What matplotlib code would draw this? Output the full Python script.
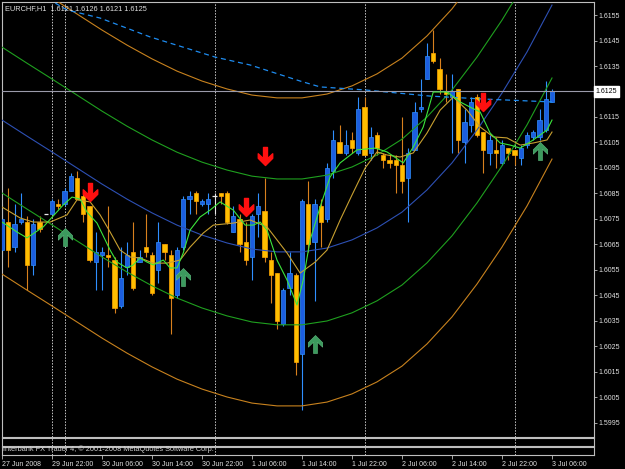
import numpy as np
import matplotlib.pyplot as plt
from matplotlib.path import Path
from matplotlib.transforms import blended_transform_factory

plt.rcParams['font.family'] = ['Liberation Sans', 'DejaVu Sans']

# EURCHF H1 candles, bar 0 = 27 Jun 2008 14:00
opens = [1.6063, 1.6074, 1.6064, 1.6074, 1.6074, 1.6057, 1.6074, 1.6077, 1.6077, 1.6081,
         1.6081, 1.6086, 1.6091, 1.6084, 1.6080, 1.6058, 1.6061, 1.6061, 1.6059, 1.6041,
         1.6056, 1.6062, 1.6058, 1.6064, 1.6061, 1.6055, 1.6065, 1.6061, 1.6045, 1.6064,
         1.6083, 1.6085, 1.6081, 1.6081, 1.6084, 1.6085, 1.6085, 1.6070, 1.6075, 1.6066,
         1.6060, 1.6077, 1.6078, 1.6059, 1.6054, 1.6034, 1.6048, 1.6053, 1.6022, 1.6081,
         1.6066, 1.6080, 1.6075, 1.6094, 1.6105, 1.6101, 1.6106, 1.6101, 1.6119, 1.6101,
         1.6108, 1.6100, 1.6098, 1.6098, 1.6096, 1.6091, 1.6102, 1.6118, 1.6130, 1.6140,
         1.6134, 1.6125, 1.6123, 1.6126, 1.6105, 1.6112, 1.6123, 1.6109, 1.6101, 1.6102,
         1.6097, 1.6103, 1.6102, 1.6099, 1.6104, 1.6107, 1.6107, 1.6110, 1.6121]
highs = [1.6081, 1.6087, 1.6081, 1.6085, 1.6076, 1.6075, 1.6076, 1.6077, 1.6083, 1.6083,
         1.6087, 1.6093, 1.6094, 1.6085, 1.6080, 1.6070, 1.6064, 1.6080, 1.6060, 1.6064,
         1.6066, 1.6074, 1.6063, 1.6077, 1.6062, 1.6074, 1.6065, 1.6063, 1.6064, 1.6084,
         1.6086, 1.6086, 1.6083, 1.6085, 1.6085, 1.6085, 1.6086, 1.6080, 1.6077, 1.6074,
         1.6077, 1.6085, 1.6091, 1.6062, 1.6054, 1.6048, 1.6062, 1.6054, 1.6083, 1.6090,
         1.6083, 1.6083, 1.6097, 1.6110, 1.6112, 1.6110, 1.6109, 1.6123, 1.6123, 1.6111,
         1.6109, 1.6101, 1.6100, 1.6100, 1.6115, 1.6103, 1.6121, 1.6130, 1.6144, 1.6149,
         1.6138, 1.6132, 1.6132, 1.6126, 1.6118, 1.6123, 1.6124, 1.6109, 1.6108, 1.6107,
         1.6106, 1.6103, 1.6102, 1.6104, 1.6109, 1.6110, 1.6118, 1.6129, 1.6126]
lows = [1.6060, 1.6056, 1.6062, 1.6073, 1.6047, 1.6053, 1.6070, 1.6077, 1.6077, 1.6079,
        1.6080, 1.6086, 1.6083, 1.6074, 1.6058, 1.6047, 1.6047, 1.6056, 1.6038, 1.6040,
        1.6053, 1.6047, 1.6058, 1.6060, 1.6045, 1.6050, 1.6059, 1.6030, 1.6044, 1.6063,
        1.6077, 1.6077, 1.6080, 1.6077, 1.6077, 1.6081, 1.6073, 1.6070, 1.6062, 1.6057,
        1.6051, 1.6068, 1.6058, 1.6042, 1.6032, 1.6033, 1.6045, 1.6014, 1.6000, 1.6062,
        1.6043, 1.6064, 1.6074, 1.6091, 1.6101, 1.6100, 1.6101, 1.6100, 1.6100, 1.6098,
        1.6100, 1.6095, 1.6095, 1.6085, 1.6085, 1.6074, 1.6102, 1.6117, 1.6130, 1.6136,
        1.6124, 1.6121, 1.6101, 1.6101, 1.6097, 1.6109, 1.6107, 1.6093, 1.6096, 1.6095,
        1.6096, 1.6098, 1.6096, 1.6096, 1.6103, 1.6106, 1.6106, 1.6109, 1.6121]
closes = [1.6075, 1.6063, 1.6073, 1.6075, 1.6057, 1.6073, 1.6071, 1.6077, 1.6082, 1.6080,
          1.6086, 1.6092, 1.6083, 1.6077, 1.6059, 1.6062, 1.6062, 1.6060, 1.6040, 1.6052,
          1.6061, 1.6048, 1.6060, 1.6062, 1.6046, 1.6066, 1.6062, 1.6044, 1.6063, 1.6083,
          1.6084, 1.6082, 1.6082, 1.6083, 1.6084, 1.6084, 1.6074, 1.6076, 1.6065, 1.6059,
          1.6076, 1.6080, 1.6060, 1.6053, 1.6035, 1.6047, 1.6054, 1.6019, 1.6082, 1.6065,
          1.6081, 1.6074, 1.6095, 1.6106, 1.6101, 1.6104, 1.6103, 1.6118, 1.6100, 1.6107,
          1.6103, 1.6098, 1.6097, 1.6096, 1.6090, 1.6101, 1.6117, 1.6119, 1.6139, 1.6137,
          1.6126, 1.6124, 1.6125, 1.6106, 1.6113, 1.6121, 1.6108, 1.6102, 1.6106, 1.6101,
          1.6104, 1.6101, 1.6100, 1.6103, 1.6108, 1.6109, 1.6114, 1.6122, 1.6125]

# regression channel, sampled every 4 bars
band_bars = list(range(0, 89, 4))
band_mid = [1.61138, 1.61075, 1.61013, 1.60950, 1.60887, 1.60828, 1.60774, 1.60726, 1.60687, 1.60656,
            1.60632, 1.60621, 1.60621, 1.60636, 1.60668, 1.60715, 1.60777, 1.60864, 1.60970, 1.61099,
            1.61244, 1.61405, 1.61589]
band_up1 = [1.61424, 1.61361, 1.61299, 1.61236, 1.61173, 1.61114, 1.61060, 1.61012, 1.60973, 1.60942,
            1.60918, 1.60907, 1.60907, 1.60922, 1.60954, 1.61001, 1.61063, 1.61150, 1.61256, 1.61385,
            1.61530, 1.61691, 1.61875]
band_dn1 = [1.60852, 1.60789, 1.60727, 1.60664, 1.60601, 1.60542, 1.60488, 1.60440, 1.60401, 1.60370,
            1.60346, 1.60335, 1.60335, 1.60350, 1.60382, 1.60429, 1.60491, 1.60578, 1.60684, 1.60813,
            1.60958, 1.61119, 1.61303]
band_up2 = [1.61742, 1.61679, 1.61617, 1.61554, 1.61491, 1.61432, 1.61378, 1.61330, 1.61291, 1.61260,
            1.61236, 1.61225, 1.61225, 1.61240, 1.61272, 1.61319, 1.61381, 1.61468, 1.61574, 1.61703,
            1.61848, 1.62009, 1.62193]
band_dn2 = [1.60534, 1.60471, 1.60409, 1.60346, 1.60283, 1.60224, 1.60170, 1.60122, 1.60083, 1.60052,
            1.60028, 1.60017, 1.60017, 1.60032, 1.60064, 1.60111, 1.60173, 1.60260, 1.60366, 1.60495,
            1.60640, 1.60801, 1.60985]

# slow dashed average
ma_long_x = [6, 8.5, 10.4, 15.7, 23.7, 34.1, 39.7, 47.7, 50.9, 58.1, 68.5, 76.5, 88]
ma_long_y = [1.61630, 1.61597, 1.61570, 1.61538, 1.61464, 1.61385, 1.61354, 1.61291, 1.61268, 1.61256,
             1.61232, 1.61221, 1.61209]

ma_fast_x = [0, 2.4, 4.0, 6.6, 9.8, 11.2, 12.5, 13.6, 15.2, 17.3, 18.4, 20.0, 21.0, 22.1, 23.2,
             24.2, 25.8, 26.9, 28.0, 29.0, 30.1, 31.7, 33.3, 34.9, 37.0, 38.9, 40.2, 41.3, 42.4, 44.0,
             45.6, 47.2, 48.2, 49.3, 50.9, 52.5, 54.1, 56.8, 59.7, 61.6, 64.2, 65.8, 67.4, 69.0, 71.2,
             73.3, 75.2, 76.5, 78.1, 79.7, 81.3, 82.9, 85.0, 87.2, 88]
ma_fast_y = [1.60738, 1.60699, 1.60676, 1.60719, 1.60805, 1.60836, 1.60828, 1.60777, 1.60734, 1.60628,
             1.60581, 1.60558, 1.60570, 1.60597, 1.60581, 1.60570, 1.60589, 1.60558, 1.60558, 1.60617,
             1.60707, 1.60758, 1.60785, 1.60817, 1.60785, 1.60726, 1.60726, 1.60738, 1.60707, 1.60589,
             1.60511, 1.60413, 1.60511, 1.60668, 1.60797, 1.60915, 1.60970, 1.61021, 1.61028, 1.61013,
             1.60970, 1.61032, 1.61111, 1.61248, 1.61248, 1.61209, 1.61185, 1.61170, 1.61087, 1.61048,
             1.61040, 1.61028, 1.61060, 1.61099, 1.61138]

ma_slow_x = [0, 2.9, 5.0, 7.7, 10.4, 12.0, 14.1, 15.7, 17.3, 18.9, 20.5, 22.1, 24.2, 26.4, 28.5,
             30.1, 32.2, 33.8, 37.0, 39.7, 42.4, 44.0, 45.6, 47.7, 50.1, 52.0, 54.1, 56.0, 58.1, 60.0,
             61.6, 63.7, 65.8, 68.0, 70.1, 72.2, 74.4, 76.5, 78.6, 80.8, 82.9, 85.0, 87.2, 88]
ma_slow_y = [1.60797, 1.60754, 1.60738, 1.60738, 1.60766, 1.60825, 1.60817, 1.60766, 1.60699, 1.60628,
             1.60601, 1.60597, 1.60577, 1.60577, 1.60589, 1.60640, 1.60695, 1.60726, 1.60734, 1.60746,
             1.60719, 1.60668, 1.60617, 1.60538, 1.60581, 1.60628, 1.60746, 1.60844, 1.60950, 1.61013,
             1.61001, 1.60993, 1.61009, 1.61087, 1.61177, 1.61228, 1.61177, 1.61111, 1.61072, 1.61068,
             1.61040, 1.61048, 1.61060, 1.61091]

sell_bars = [14, 39, 42, 77]
sell_y = [1.60856, 1.60797, 1.60997, 1.61209]
buy_bars = [10, 29, 50, 86]
buy_y = [1.60679, 1.60523, 1.60260, 1.61017]

separators = [8, 10, 34, 58, 82]
date_ticks = [0, 8, 16, 24, 32, 40, 48, 56, 64, 72, 80, 88]
date_labels = ['27 Jun 2008', '29 Jun 22:00', '30 Jun 06:00', '30 Jun 14:00', '30 Jun 22:00',
               '1 Jul 06:00', '1 Jul 14:00', '1 Jul 22:00', '2 Jul 06:00', '2 Jul 14:00',
               '2 Jul 22:00', '3 Jul 06:00']
price_ticks = [1.5995, 1.6005, 1.6015, 1.6025, 1.6035, 1.6045, 1.6055, 1.6065, 1.6075,
               1.6085, 1.6095, 1.6105, 1.6115, 1.6125, 1.6135, 1.6145, 1.6155]

W, H = 625, 469
fig = plt.figure(figsize=(W / 100, H / 100), dpi=100, facecolor='black')
ax = fig.add_axes([2 / W, 1 - 437 / H, 592 / W, 435 / H])
ax_a = fig.add_axes([2 / W, 1 - 446 / H, 592 / W, 8 / H], sharex=ax)
ax_b = fig.add_axes([2 / W, 1 - 455 / H, 592 / W, 8 / H], sharex=ax)

frame = '#BEBEBE'
for a in (ax, ax_a, ax_b):
    a.set_facecolor('black')
    for s in a.spines.values():
        s.set_color(frame)
        s.set_linewidth(0.8)
    for b in separators:
        a.axvline(b, color='#C8C8C8', lw=0.7, ls=(0, (1.5, 1.5)), zorder=1)
    a.tick_params(left=False, labelleft=False, bottom=False, labelbottom=False)

ax.set_xlim(0, 94.72)
ax.set_ylim(1.59895, 1.61601)
ax_a.set_yticks([])
ax_b.set_yticks([])

# candles
o = np.array(opens); h = np.array(highs); l = np.array(lows); c = np.array(closes)
x = np.arange(len(o))
up = c > o
dn = c < o
dj = c == o
ax.vlines(x[up], l[up], h[up], color='#2F8FFF', lw=0.8, zorder=2)
ax.vlines(x[dn], l[dn], h[dn], color='#D9801E', lw=0.8, zorder=2)
ax.vlines(x[dj], l[dj], h[dj], color='#E8E8E8', lw=0.8, zorder=2)
body_min = 0.00004
ax.bar(x[up], np.maximum(c[up] - o[up], body_min), bottom=o[up], width=0.66,
       color='#1C5EE0', edgecolor='#2F8FFF', lw=0.5, zorder=3)
ax.bar(x[dn], np.maximum(o[dn] - c[dn], body_min), bottom=c[dn], width=0.66,
       color='#FFBE00', edgecolor='#FFA500', lw=0.5, zorder=3)
ax.hlines(c[dj], x[dj] - 0.33, x[dj] + 0.33, color='#E8E8E8', lw=0.9, zorder=3)

# channel and averages
ax.plot(band_bars, band_up2, color='#C8821E', lw=0.8, zorder=4)
ax.plot(band_bars, band_dn2, color='#C8821E', lw=0.8, zorder=4)
ax.plot(band_bars, band_up1, color='#1FA01F', lw=0.8, zorder=4)
ax.plot(band_bars, band_dn1, color='#1FA01F', lw=0.8, zorder=4)
ax.plot(band_bars, band_mid, color='#2D50B4', lw=0.8, zorder=4)
ax.plot(ma_long_x, ma_long_y, color='#1E8CF0', lw=0.9, ls=(0, (4, 3)), zorder=4)
ax.plot(ma_slow_x, ma_slow_y, color='#C8A030', lw=0.8, zorder=5)
ax.plot(ma_fast_x, ma_fast_y, color='#3CE63C', lw=0.8, zorder=5)

ax.axhline(closes[-1], color='#9A9AAA', lw=0.8, zorder=4)

# signal arrows
down = Path([(-0.22, 1.0), (0.22, 1.0), (0.22, -0.25), (0.8, 0.3), (0.8, -0.2), (0.0, -1.0),
             (-0.8, -0.2), (-0.8, 0.3), (-0.22, -0.25), (-0.22, 1.0)],
            [Path.MOVETO] + [Path.LINETO] * 8 + [Path.CLOSEPOLY])
upar = Path(down.vertices * np.array([1, -1]), down.codes)
ax.plot(sell_bars, sell_y, ls='none', marker=down, ms=13, color='#FF1010', mec='#FF1010', zorder=6)
ax.plot(buy_bars, buy_y, ls='none', marker=upar, ms=13, color='#3C9A5E', mec='#5FBF80', mew=0.4, zorder=6)

# price scale (the last price is shown in its own box instead of a plain label)
last = closes[-1]
ax.yaxis.tick_right()
ax.set_yticks(price_ticks)
ax.set_yticklabels(['' if abs(p - last) < 1e-6 else f'{p:.4f}' for p in price_ticks])
ax.tick_params(axis='y', right=True, labelright=True, length=2, width=0.6, color=frame,
               labelcolor='#E0E0E0', labelsize=5, pad=1.5)
tr = blended_transform_factory(ax.transAxes, ax.transData)
ax.text(1.003, last, f'{last:.4f}', transform=tr, fontsize=5, color='black',
        va='center', ha='left', zorder=10, clip_on=False,
        bbox=dict(boxstyle='square,pad=0.25', fc='white', ec='white'))

# time scale
ax_b.set_xticks(date_ticks)
ax_b.set_xticklabels(date_labels)
ax_b.tick_params(axis='x', bottom=True, labelbottom=True, length=3, width=0.6, color=frame,
                 labelcolor='#E0E0E0', labelsize=5, pad=1, direction='out')
for t in ax_b.get_xticklabels():
    t.set_ha('left')

ax.text(0.005, 0.986, 'EURCHF,H1  1.6121 1.6126 1.6121 1.6125', transform=ax.transAxes,
        fontsize=5.3, color='#E0E0E0', va='center', ha='left', zorder=10)
fig.text(3 / W, 1 - 449.5 / H, 'Interbank FX Trader 4, \u00a9 2001-2008 MetaQuotes Software Corp.',
         fontsize=5.3, color='#D0D0D0', va='center', ha='left')

fig.savefig('out.png', dpi=100, facecolor='black')
